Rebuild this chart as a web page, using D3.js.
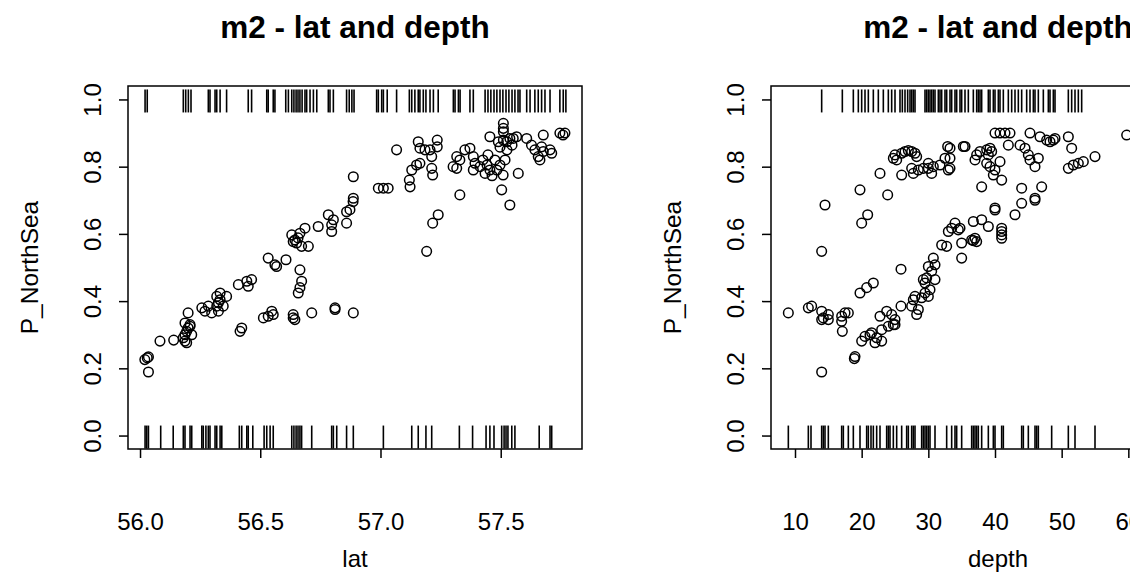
<!DOCTYPE html>
<html>
<head>
<meta charset="utf-8">
<script src="https://cdn.jsdelivr.net/npm/d3@7/dist/d3.min.js"></script>
<style>
body { margin: 0; background: #fff; }
text { font-family: "Liberation Sans", Arial, sans-serif; fill: #000; }
</style>
</head>
<body>
<div id="canvas"></div>
<script>
"use strict"

/* Configuration variables: drawing */
let svgWidth = 1130;
let svgHeight = 572;
let boxTop = 86;
let boxBottom = 449;
let panelWidth = 454;

/* Data: predicted P_NorthSea against lat  [lat, P] */
let latPoints = [
    [56.03, 0.231], [56.02, 0.226], [56.035, 0.234], [56.035, 0.189], [56.083, 0.281],
    [56.14, 0.284], [56.18, 0.291], [56.187, 0.30], [56.194, 0.31], [56.20, 0.32],
    [56.208, 0.33], [56.215, 0.30], [56.194, 0.276], [56.187, 0.281], [56.20, 0.365],
    [56.187, 0.335], [56.208, 0.325], [56.257, 0.38], [56.284, 0.385], [56.298, 0.365],
    [56.27, 0.37], [56.36, 0.414], [56.333, 0.424], [56.319, 0.414], [56.333, 0.404],
    [56.326, 0.395], [56.346, 0.385], [56.319, 0.385], [56.326, 0.37], [56.409, 0.449],
    [56.444, 0.459], [56.464, 0.464], [56.45, 0.444], [56.416, 0.31], [56.423, 0.32],
    [56.513, 0.35], [56.533, 0.355], [56.554, 0.36], [56.548, 0.37], [56.533, 0.528],
    [56.568, 0.503], [56.561, 0.508], [56.607, 0.523], [56.637, 0.36], [56.644, 0.345],
    [56.637, 0.35], [56.665, 0.493], [56.672, 0.459], [56.665, 0.44], [56.658, 0.424],
    [56.686, 0.617], [56.665, 0.602], [56.631, 0.597], [56.644, 0.582], [56.672, 0.563],
    [56.70, 0.563], [56.651, 0.573], [56.637, 0.577], [56.657, 0.588], [56.714, 0.365],
    [56.741, 0.622], [56.783, 0.657], [56.804, 0.642], [56.797, 0.627], [56.797, 0.607],
    [56.859, 0.632], [56.811, 0.38], [56.811, 0.375], [56.859, 0.666], [56.873, 0.672],
    [56.886, 0.696], [56.887, 0.706], [56.887, 0.77], [56.887, 0.365], [56.991, 0.736],
    [57.012, 0.736], [57.032, 0.736], [57.067, 0.85], [57.12, 0.76], [57.123, 0.74],
    [57.13, 0.79], [57.15, 0.805], [57.164, 0.81], [57.157, 0.874], [57.164, 0.855],
    [57.185, 0.85], [57.206, 0.85], [57.236, 0.879], [57.236, 0.859], [57.213, 0.83],
    [57.213, 0.795], [57.217, 0.775], [57.192, 0.548], [57.24, 0.657], [57.217, 0.632],
    [57.33, 0.716], [57.317, 0.83], [57.33, 0.82], [57.302, 0.80], [57.317, 0.795],
    [57.351, 0.85], [57.372, 0.855], [57.386, 0.83], [57.393, 0.81], [57.386, 0.79],
    [57.455, 0.889], [57.426, 0.82], [57.443, 0.805], [57.455, 0.79], [57.435, 0.78],
    [57.464, 0.773], [57.484, 0.79], [57.497, 0.805], [57.476, 0.82], [57.51, 0.775],
    [57.518, 0.82], [57.447, 0.835], [57.414, 0.80], [57.504, 0.731], [57.538, 0.686],
    [57.511, 0.929], [57.511, 0.914], [57.511, 0.904], [57.49, 0.874], [57.511, 0.879],
    [57.525, 0.874], [57.538, 0.884], [57.552, 0.884], [57.566, 0.889], [57.497, 0.858],
    [57.526, 0.85], [57.547, 0.864], [57.608, 0.884], [57.573, 0.78], [57.628, 0.864],
    [57.642, 0.85], [57.656, 0.83], [57.677, 0.894], [57.67, 0.859], [57.677, 0.845],
    [57.663, 0.82], [57.705, 0.85], [57.712, 0.84], [57.746, 0.9], [57.767, 0.9],
    [57.759, 0.894]
];

/* observed presences (1) and absences (0) by lat */
let latOnes = [56.021, 56.030, 56.180, 56.190, 56.201, 56.212, 56.284, 56.291, 56.312, 56.319,
    56.333, 56.360, 56.450, 56.464, 56.527, 56.533, 56.554, 56.561, 56.606, 56.617,
    56.631, 56.640, 56.649, 56.657, 56.665, 56.674, 56.686, 56.693, 56.707, 56.721,
    56.735, 56.783, 56.790, 56.804, 56.859, 56.870, 56.881, 56.890, 56.984, 56.991,
    57.005, 57.012, 57.028, 57.067, 57.120, 57.130, 57.143, 57.157, 57.164, 57.178,
    57.189, 57.206, 57.220, 57.240, 57.303, 57.310, 57.324, 57.331, 57.372, 57.386,
    57.435, 57.447, 57.459, 57.472, 57.484, 57.497, 57.509, 57.522, 57.534, 57.547,
    57.559, 57.572, 57.580, 57.608, 57.622, 57.642, 57.656, 57.670, 57.684, 57.705,
    57.746, 57.760, 57.771];
let latZeros = [56.021, 56.028, 56.035, 56.086, 56.138, 56.180, 56.187, 56.208, 56.215, 56.257,
    56.263, 56.274, 56.284, 56.291, 56.312, 56.319, 56.333, 56.340, 56.413, 56.423,
    56.444, 56.450, 56.469, 56.516, 56.527, 56.541, 56.554, 56.631, 56.640, 56.649,
    56.657, 56.665, 56.672, 56.714, 56.797, 56.804, 56.818, 56.859, 56.887, 57.012,
    57.130, 57.157, 57.189, 57.213, 57.328, 57.383, 57.439, 57.455, 57.472, 57.504,
    57.514, 57.522, 57.530, 57.546, 57.559, 57.660, 57.705, 57.712];

/* Data: predicted P_NorthSea against depth  [depth, P] */
let depthPoints = [
    [9, 0.365], [12, 0.38], [12.5, 0.385], [14, 0.37], [14.25, 0.35], [15, 0.36],
    [14, 0.345], [15, 0.345], [14, 0.189], [14, 0.548], [14.5, 0.686], [17, 0.355],
    [17.5, 0.365], [18, 0.365], [17, 0.34], [17.1, 0.31], [18.9, 0.229], [19.0, 0.235],
    [19.75, 0.424], [20.75, 0.44], [21.75, 0.454], [20, 0.632], [20.9, 0.657], [19.75, 0.731],
    [20, 0.281], [20.5, 0.295], [21.25, 0.30], [21.5, 0.306], [22.25, 0.291], [23, 0.281],
    [22, 0.276], [22.75, 0.355], [23.75, 0.37], [24.5, 0.36], [24.75, 0.33], [23, 0.315],
    [24, 0.325], [25, 0.33], [25, 0.345], [25.9, 0.385], [25.9, 0.495], [22.75, 0.78],
    [23.9, 0.716], [26.0, 0.775], [24.75, 0.825], [25.0, 0.835], [25.25, 0.82], [26.0, 0.84],
    [26.5, 0.845], [27.0, 0.848], [27.5, 0.845], [28, 0.84], [28.25, 0.83], [27.5, 0.795],
    [27.75, 0.78], [28.5, 0.79], [29.25, 0.795], [30, 0.81], [30.5, 0.78], [30, 0.795],
    [30.75, 0.80], [31.75, 0.805], [32.5, 0.825], [32.9, 0.86], [33, 0.79], [33.25, 0.855],
    [33.25, 0.825], [33.25, 0.795], [35.25, 0.86], [35.5, 0.86], [37.25, 0.835], [37, 0.82],
    [37.75, 0.845], [27.5, 0.385], [27.75, 0.404], [28, 0.414], [28.25, 0.36], [28.5, 0.375],
    [29, 0.41], [29.5, 0.424], [30, 0.414], [30.25, 0.434], [29.5, 0.454], [29.25, 0.464],
    [29.75, 0.469], [31, 0.464], [30.5, 0.489], [30, 0.503], [31, 0.508], [30.75, 0.528],
    [32, 0.567], [32.75, 0.563], [33, 0.607], [33.5, 0.617], [34, 0.632], [34.5, 0.612],
    [35, 0.573], [35, 0.528], [34.75, 0.617], [36.5, 0.582], [37, 0.587], [37.25, 0.577],
    [36.75, 0.58], [36.75, 0.637], [38, 0.642], [39, 0.622], [41, 0.617], [41, 0.607],
    [41, 0.597], [41, 0.587], [40, 0.671], [43, 0.657], [44, 0.691], [46, 0.70],
    [38, 0.74], [44, 0.736], [47, 0.74], [46, 0.706], [40, 0.677], [41, 0.76],
    [38.75, 0.85], [39.25, 0.855], [39.5, 0.845], [39, 0.835], [38.75, 0.81], [39.25, 0.80],
    [40, 0.79], [39.75, 0.775], [40.75, 0.815], [40, 0.9], [40.75, 0.9], [41.5, 0.9],
    [42.25, 0.9], [42, 0.864], [43.75, 0.864], [44.5, 0.855], [45, 0.835], [45.25, 0.82],
    [46, 0.80], [46.5, 0.825], [45.25, 0.9], [46.75, 0.889], [47.75, 0.879], [48.25, 0.874],
    [48.75, 0.879], [49, 0.884], [51, 0.889], [51.5, 0.855], [51, 0.795], [51.75, 0.805],
    [52.5, 0.81], [53.25, 0.815], [55, 0.83], [59.75, 0.894]
];

let depthOnes = [14.0, 17.1, 18.75, 19.5, 20.0, 20.5, 21.0, 21.75, 22.5, 23.25,
    24.0, 24.5, 25.0, 25.75, 26.1, 26.5, 26.9, 27.25, 27.5, 27.75,
    28.0, 29.5, 29.75, 30.0, 30.25, 30.5, 30.75, 31.0, 31.5, 31.75,
    32.0, 32.5, 32.75, 33.25, 33.5, 34.0, 34.25, 34.75, 35.0, 35.5,
    36.0, 36.75, 37.25, 37.5, 37.75, 38.0, 39.0, 39.25, 39.75, 40.0,
    40.5, 40.75, 41.25, 42.0, 42.5, 43.0, 43.5, 44.0, 44.75, 45.25,
    45.75, 46.0, 46.5, 47.25, 48.0, 48.25, 48.75, 49.0, 51.0, 51.5,
    52.0, 52.5, 53.0];
let depthZeros = [9.0, 12.0, 12.4, 14.0, 14.25, 14.5, 15.0, 17.0, 17.25, 18.0,
    18.75, 19.75, 20.75, 21.0, 21.4, 21.75, 22.25, 22.75, 23.75, 24.0,
    24.25, 24.75, 25.25, 26.0, 26.75, 27.0, 27.5, 27.75, 28.0, 29.0,
    29.25, 29.5, 29.75, 30.0, 30.25, 31.0, 32.75, 33.5, 34.0, 34.25,
    35.0, 36.5, 36.75, 37.0, 37.25, 37.5, 38.0, 39.0, 39.75, 40.0,
    41.0, 41.25, 44.0, 44.25, 45.0, 46.0, 46.25, 46.5, 48.5, 51.0,
    52.0, 55.0];

/* tick labels */
let latTicks = [56.0, 56.5, 57.0, 57.5];
let depthTicks = [10, 20, 30, 40, 50, 60];
let pTicks = [0.0, 0.2, 0.4, 0.6, 0.8, 1.0];

let titleText = "m2 - lat and depth";
let yLabel = "P_NorthSea";

/* Create drawing canvas */
let svg = d3.select("#canvas")
    .append("svg")
    .attr("width", svgWidth)
    .attr("height", svgHeight);

svg.append("rect")
    .attr("width", svgWidth)
    .attr("height", svgHeight)
    .attr("fill", "white");

/* R-style y range: 0..1 padded by 4% */
let yScale = d3.scaleLinear()
    .domain([-0.04, 1.04])
    .range([boxBottom, boxTop]);

function drawPanel(left, xDomain, points, ones, zeros, xTicks, xFormat, xLabel) {
    let xScale = d3.scaleLinear()
        .domain(xDomain)
        .range([left, left + panelWidth]);
    let g = svg.append("g");

    /* rug of observed 0/1 */
    let rug = ones.map(d => [d, 1]).concat(zeros.map(d => [d, 0]));
    g.selectAll("line.rug")
        .data(rug)
        .join("line")
        .attr("class", "rug")
        .attr("x1", d => xScale(d[0]))
        .attr("x2", d => xScale(d[0]))
        .attr("y1", d => yScale(d[1]) - 10)
        .attr("y2", d => yScale(d[1]) + 13)
        .attr("stroke", "black")
        .attr("stroke-width", 1.6);

    /* points */
    g.selectAll("circle")
        .data(points)
        .join("circle")
        .attr("cx", d => xScale(d[0]))
        .attr("cy", d => yScale(d[1]))
        .attr("r", 4.8)
        .attr("fill", "none")
        .attr("stroke", "black")
        .attr("stroke-width", 1.5);

    /* box */
    g.append("rect")
        .attr("x", left)
        .attr("y", boxTop)
        .attr("width", panelWidth)
        .attr("height", boxBottom - boxTop)
        .attr("fill", "none")
        .attr("stroke", "black")
        .attr("stroke-width", 1.5);

    /* x axis */
    let xAxis = d3.axisBottom(xScale)
        .tickValues(xTicks)
        .tickFormat(xFormat)
        .tickSize(9)
        .tickPadding(55);
    let xg = g.append("g")
        .attr("transform", "translate(0," + boxBottom + ")")
        .call(xAxis);
    xg.select(".domain").remove();
    xg.selectAll("line").attr("stroke-width", 1.5);
    xg.selectAll("text")
        .attr("font-size", 24)
        .attr("font-family", "'Liberation Sans', Arial, sans-serif");

    /* y axis with rotated labels */
    let yAxis = d3.axisLeft(yScale)
        .tickValues(pTicks)
        .tickFormat(d3.format(".1f"))
        .tickSize(9);
    let yg = g.append("g")
        .attr("transform", "translate(" + left + ",0)")
        .call(yAxis);
    yg.select(".domain").remove();
    yg.selectAll("line").attr("stroke-width", 1.5);
    yg.selectAll("text")
        .attr("font-size", 24)
        .attr("font-family", "'Liberation Sans', Arial, sans-serif")
        .attr("x", null)
        .attr("dy", null)
        .attr("text-anchor", "middle")
        .attr("dominant-baseline", "middle")
        .attr("transform", "translate(-33,0) rotate(-90)");

    /* labels */
    g.append("text")
        .attr("x", left + panelWidth / 2)
        .attr("y", 38)
        .attr("text-anchor", "middle")
        .attr("font-size", 31.5)
        .attr("font-weight", "bold")
        .text(titleText);

    g.append("text")
        .attr("x", left + panelWidth / 2)
        .attr("y", 567)
        .attr("text-anchor", "middle")
        .attr("font-size", 24)
        .text(xLabel);

    g.append("text")
        .attr("transform", "translate(" + (left - 90) + "," + ((boxTop + boxBottom) / 2) + ") rotate(-90)")
        .attr("text-anchor", "middle")
        .attr("font-size", 24.5)
        .text(yLabel);
}

drawPanel(128, [55.95, 57.838], latPoints, latOnes, latZeros, latTicks, d3.format(".1f"), "lat");
drawPanel(771, [6.4, 74.5], depthPoints, depthOnes, depthZeros, depthTicks, d3.format("d"), "depth");
</script>
</body>
</html>
